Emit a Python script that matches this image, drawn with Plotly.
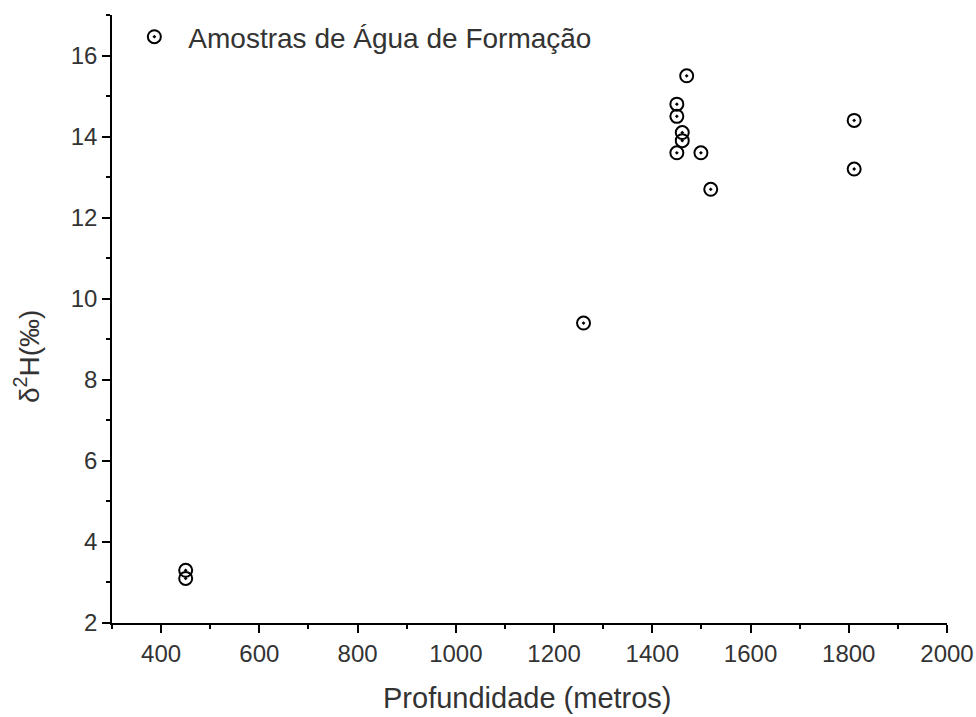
import plotly.graph_objects as go

depth = [450, 450, 1260, 1470, 1450, 1450, 1461, 1461, 1450, 1499, 1519, 1811, 1811]
d2h = [3.3, 3.1, 9.4, 15.5, 14.8, 14.5, 14.1, 13.9, 13.6, 13.6, 12.7, 14.4, 13.2]
series_name = "Amostras de Água de Formação"
x_title = "Profundidade (metros)"
y_title = "δ<sup>2</sup>H(‰)"

fig = go.Figure()
fig.add_trace(go.Scatter(
    x=depth, y=d2h, mode="markers", name=series_name,
    marker=dict(symbol="circle-open-dot", size=13, color="black",
                line=dict(width=2, color="black")),
))

font = "Liberation Sans, Arial, sans-serif"
axis_common = dict(
    showline=True, linecolor="black", linewidth=1.5,
    ticks="outside", ticklen=8, tickwidth=1.5, tickcolor="black",
    showgrid=False, zeroline=False, mirror=False, automargin=False,
    tickfont=dict(family=font, size=24, color="#333"),
)
fig.update_layout(
    width=976, height=717,
    margin=dict(l=112, r=29, t=15, b=94, autoexpand=False),
    paper_bgcolor="white", plot_bgcolor="white",
    showlegend=True,
    legend=dict(x=0.01, y=1 - 12 / 717, yref="container", xanchor="left", yanchor="top", itemwidth=58,
                font=dict(family=font, size=28, color="#333"),
                bgcolor="rgba(0,0,0,0)"),
    xaxis=dict(range=[300, 2000], dtick=200, tick0=400,
               minor=dict(dtick=100, ticklen=4, tickwidth=1.5, tickcolor="black", ticks="outside"),
               **axis_common),
    yaxis=dict(range=[2, 17], dtick=2, tick0=2,
               minor=dict(dtick=1, ticklen=4, tickwidth=1.5, tickcolor="black", ticks="outside"),
               **axis_common),
    annotations=[
        dict(text=x_title, xref="paper", yref="paper", x=(527 - 112) / 835, y=-(698 - 623) / 608,
             xanchor="center", yanchor="middle", showarrow=False,
             font=dict(family=font, size=29, color="#333")),
        dict(text=y_title, xref="paper", yref="paper", x=-(112 - 27) / 835, y=(623 - 357) / 608,
             xanchor="center", yanchor="middle", showarrow=False, textangle=-90,
             font=dict(family=font, size=28, color="#333")),
    ],
)
fig.write_html("out.html")
